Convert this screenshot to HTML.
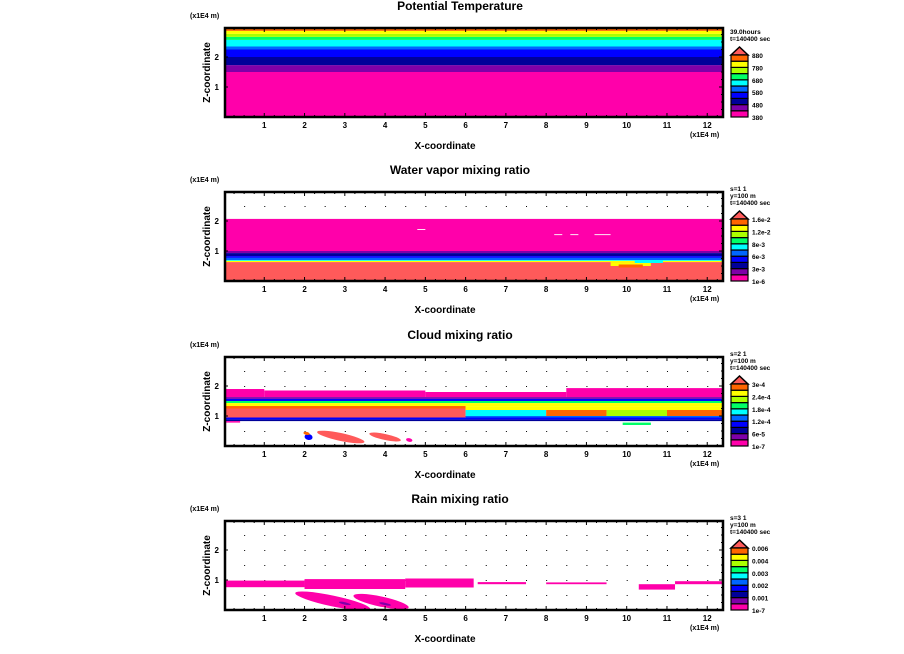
<!DOCTYPE html>
<html><head><meta charset="utf-8"><style>
html,body{margin:0;padding:0;background:#fff;}
svg{display:block;font-family:"Liberation Sans",sans-serif;}
text{font-weight:bold;fill:#000;}
</style></head><body>
<svg id="fig" width="904" height="654" viewBox="0 0 904 654" xmlns="http://www.w3.org/2000/svg"></svg>
<script>
// ---- data ----
const panelTitles = ["Potential Temperature","Water vapor mixing ratio","Cloud mixing ratio","Rain mixing ratio"];
const panelInfo = [["39.0hours","t=140400 sec"],["s=1 1","y=100 m","t=140400 sec"],["s=2 1","y=100 m","t=140400 sec"],["s=3 1","y=100 m","t=140400 sec"]];
const legendLabels = [
  ["880","780","680","580","480","380"],
  ["1.6e-2","1.2e-2","8e-3","6e-3","3e-3","1e-6"],
  ["3e-4","2.4e-4","1.8e-4","1.2e-4","6e-5","1e-7"],
  ["0.006","0.004","0.003","0.002","0.001","1e-7"]
];
const xTicks = [1,2,3,4,5,6,7,8,9,10,11,12];
const zTicks = [1,2];
const levelColors = ["#ff00aa","#7f00a8","#000099","#0000ff","#0066ff","#00ffff","#00ff66","#aaff00","#ffff00","#ff6600","#ff5a5a"];
// layers: [x0, x1, z0, z1, level]
const thetaLayers = [
  [0,12.4,0,1.5,0],[0,12.4,1.5,1.73,1],[0,12.4,1.73,2.0,2],[0,12.4,2.0,2.25,3],[0,12.4,2.25,2.35,4],
  [0,12.4,2.35,2.57,5],[0,12.4,2.57,2.67,6],[0,12.4,2.67,2.77,7],[0,12.4,2.77,2.87,8],[0,12.4,2.87,2.97,9]
];
const vaporLayers = [
  [0,12.4,1.0,2.07,0],[0,12.4,0.93,1.0,1],[0,12.4,0.83,0.93,2],[0,12.4,0.77,0.83,3],[0,12.4,0.70,0.77,4],
  [0,12.4,0.67,0.70,5],[0,12.4,0.63,0.67,8],[0,12.4,0,0.63,10],
  [9.6,10.6,0.5,0.63,8],[9.8,10.4,0.45,0.55,9],[10.2,10.9,0.6,0.7,5]
];
const vaporHoles = [[4.8,5.0,1.7,1.73],[8.2,8.4,1.53,1.56],[8.6,8.8,1.53,1.56],[9.2,9.6,1.53,1.56]];
const cloudLayers = [
  [0,1,1.63,1.9,0],[1,5,1.63,1.85,0],[5,8.5,1.63,1.8,0],[8.5,12.4,1.63,1.93,0],
  [0,12.4,1.57,1.63,1],[0,12.4,1.5,1.57,3],[0,12.4,1.43,1.5,6],[0,12.4,1.33,1.43,8],
  [0,6,0.95,1.33,10],[0,6,1.25,1.33,9],
  [6,12.4,1.2,1.33,8],[6,8,1.0,1.2,5],[8,9.5,1.0,1.2,9],[9.5,11,1.0,1.2,7],[11,12.4,1.0,1.2,9],
  [6,12.4,0.95,1.0,4],[0,12.4,0.88,0.95,3],[0,12.4,0.83,0.88,2],[0,0.4,0.78,0.83,0],[9.9,10.6,0.7,0.78,6]
];
// blobs: [cx, cz, rx, rz, level]
const cloudBlobs = [[2.9,0.3,0.6,0.13,10],[4.0,0.3,0.4,0.1,10],[2.1,0.3,0.1,0.1,3],[2.05,0.42,0.08,0.05,9],[4.6,0.2,0.08,0.06,0]];
const rainLayers = [
  [0,2,0.76,0.98,0],[2,4.5,0.7,1.03,0],[4.5,6.2,0.75,1.05,0],[6.3,7.5,0.86,0.93,0],[8,9.5,0.86,0.92,0],
  [10.3,11.2,0.68,0.86,0],[11.2,12.4,0.86,0.96,0]
];
const rainBlobs = [[2.7,0.3,0.95,0.18,0],[3.9,0.28,0.7,0.17,0],[3.0,0.22,0.15,0.04,1],[4.0,0.2,0.15,0.04,1]];
const panelLayers = [thetaLayers, vaporLayers, cloudLayers, rainLayers];
const panelBlobs = [[], [], cloudBlobs, rainBlobs];
const panelOffsets = [0,164,329,493];

// ---- drawing ----
const NS = "http://www.w3.org/2000/svg";
const svg = document.getElementById("fig");
const BOXL = 224, BOXR = 723, XPX = 40.27, ZPX = 30, BOXH = 89;
function X(x){ return BOXL + x*XPX; }
function Z(z, off){ return 117 + off - z*ZPX; }
function mk(tag, attrs, parent){ const e = document.createElementNS(NS, tag); for (const k in attrs) e.setAttribute(k, attrs[k]); (parent||svg).appendChild(e); return e; }
function txt(s, x, y, size, anchor, parent){ const t = mk("text",{x:x,y:y,"font-size":size,"text-anchor":anchor||"start"},parent); t.textContent = s; return t; }

panelTitles.forEach((title, p) => {
  const off = panelOffsets[p];
  const g = mk("g", {});
  
  
  const top = Z(0,off) - BOXH, bot = Z(0,off);
  const clip = mk("clipPath",{id:"c"+p}, g);
  mk("rect",{x:BOXL,y:top,width:BOXR-BOXL,height:BOXH}, clip);
  const dg = mk("g",{}, g);
  
  
  for (let x=0.5; x<12.4; x+=0.5) for (let z=0.5; z<2.97; z+=0.5) mk("rect",{x:X(x),y:Z(z,off),width:1,height:1,fill:"#000"}, dg);
  const fg = mk("g",{"clip-path":"url(#c"+p+")"}, g);
  
  
  panelLayers[p].forEach(L => {
    const r = mk("rect",{x:X(L[0]),y:Z(L[3],off),width:X(L[1])-X(L[0]),height:Z(L[2],off)-Z(L[3],off),fill:levelColors[L[4]]}, fg);
    
    
  });
  if (p===1) vaporHoles.forEach(H => {
    const r = mk("rect",{x:X(H[0]),y:Z(H[3],off),width:X(H[1])-X(H[0]),height:Z(H[2],off)-Z(H[3],off),fill:"#fff"}, fg);
    
    
  });
  panelBlobs[p].forEach(B => {
    const e = mk("ellipse",{cx:X(B[0]),cy:Z(B[1],off),rx:B[2]*XPX,ry:B[3]*ZPX,fill:levelColors[B[4]],transform:"rotate(12 "+X(B[0])+" "+Z(B[1],off)+")"}, fg);
    
    
  });
  const fr = mk("rect",{x:BOXL+1,y:top,width:BOXR-BOXL-1,height:BOXH,fill:"none",stroke:"#000","stroke-width":2.5}, g);
  
  
  for (let x=0.25; x<12.4; x+=0.25){ const L = Math.abs(x-Math.round(x))<0.01?4:2; mk("line",{x1:X(x),x2:X(x),y1:bot,y2:bot-L,stroke:"#000"},g); mk("line",{x1:X(x),x2:X(x),y1:top,y2:top+L,stroke:"#000"},g); }
  for (let z=0.25; z<2.97; z+=0.25){ const L = Math.abs(z-Math.round(z))<0.01?4:2; mk("line",{x1:BOXL,x2:BOXL+L,y1:Z(z,off),y2:Z(z,off),stroke:"#000"},g); mk("line",{x1:BOXR,x2:BOXR-L,y1:Z(z,off),y2:Z(z,off),stroke:"#000"},g); }
  xTicks.forEach(v => { const t = txt(String(v), X(v), bot+11, 8, "middle", g);   });
  zTicks.forEach(v => { const t = txt(String(v), BOXL-5, Z(v,off)+3, 8, "end", g);   });
  let t;
  t = txt(title, 460, 10+off, 12, "middle", g);  
  t = txt("(x1E4 m)", 190, 18+off, 7, "start", g);  
  t = txt("(x1E4 m)", 690, 137+off, 7, "start", g);  
  t = txt("X-coordinate", 445, 149+off, 10, "middle", g);  
  t = txt("Z-coordinate", 0, 0, 10, "middle", g); t.setAttribute("transform","translate(210,"+(top+BOXH/2)+") rotate(-90)");
   
  const lg = mk("g",{}, g);
  
  
  const info = panelInfo[p];
  info.forEach((s,i) => { const tt = txt(s, 730, bot - 62 - 14 - 7*(info.length-1-i) , 6.5, "start", lg);   });
  const bh = 6.2, cbTop = bot - 10*bh;
  const tri = mk("polygon",{points:(731)+","+(cbTop)+" "+(748)+","+(cbTop)+" "+(739.5)+","+(cbTop-8),fill:levelColors[10],stroke:"#000","stroke-width":1.5}, lg);
   
  for (let i=0;i<10;i++){
    const r = mk("rect",{x:731,y:bot-(i+1)*bh,width:17,height:bh,fill:levelColors[i],stroke:"#000","stroke-width":1.2}, lg);
     
  }
  legendLabels[p].forEach((s,i) => { const tt = txt(s, 752, cbTop + i*2*bh + 3, 6.5, "start", lg);   });
});
</script>
</body></html>
